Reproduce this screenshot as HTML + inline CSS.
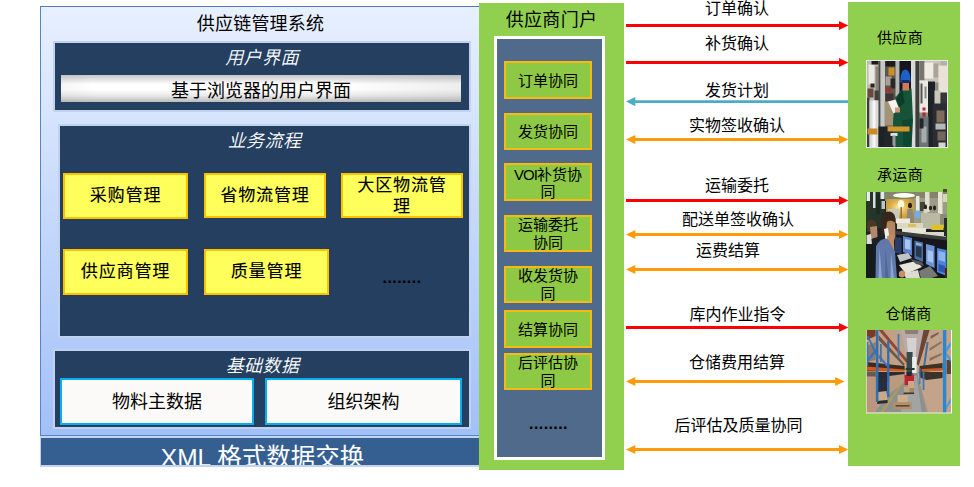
<!DOCTYPE html>
<html lang="zh-CN">
<head>
<meta charset="utf-8">
<title>供应链管理系统</title>
<style>
html,body{margin:0;padding:0;background:#fff;}
body{width:974px;height:487px;position:relative;overflow:hidden;
  font-family:"Liberation Sans","Noto Sans CJK SC",sans-serif;color:#000;}
.abs{position:absolute;box-sizing:border-box;}
.c{display:flex;align-items:center;justify-content:center;text-align:center;white-space:nowrap;}
/* left panel */
#outer{left:40px;top:6px;width:441px;height:430px;
  background:linear-gradient(#e8f0ff 0%,#a2c0f8 100%);
  border:1px solid #5585c5;border-top:1px solid #4a7fc4;}
.dark{background:#243f60;border:2px solid #c1d2ef;background-clip:padding-box;}
.hd{color:#fff;font-style:italic;font-size:18px;letter-spacing:0.4px;font-weight:350;}
.ybox{background:#ffff5c;border:2px solid #ffc000;font-size:17px;letter-spacing:0.9px;font-weight:400;line-height:20px;text-shadow:0.4px 0.4px 0 rgba(0,0,0,.3);}
.wbox{background:#fbfaf8;border:2.5px solid #00b0f0;font-size:18px;padding-bottom:3px;}
/* middle */
.gbox{background:#8dc944;border:2px solid #f9b90f;font-size:15px;line-height:17.5px;padding-top:0.5px;}
.lbl{font-size:16px;height:20px;line-height:20px;width:222px;left:626px;text-align:center;white-space:nowrap;}
.rl{font-size:15px;letter-spacing:0.35px;width:112px;left:848px;text-align:center;height:20px;line-height:20px;}
</style>
</head>
<body>
<!-- ============ LEFT PANEL ============ -->
<div id="outer" class="abs"></div>
<div class="abs c" style="left:40px;top:9.5px;width:441px;height:24px;font-size:18px;letter-spacing:0.2px;">供应链管理系统</div>

<div class="abs dark" style="left:53px;top:41px;width:418px;height:71px;"></div>
<div class="abs c hd" style="left:54px;top:44.5px;width:416px;height:22px;">用户界面</div>
<div class="abs c" style="left:61px;top:75px;width:400px;height:27px;font-size:18px;
  background:linear-gradient(90deg,rgba(120,120,120,.07) 0%,rgba(120,120,120,0) 8%,rgba(120,120,120,0) 70%,rgba(120,120,120,.13) 100%),linear-gradient(#c6c6c6 0%,#ffffff 34%,#ffffff 54%,#e9e9e9 76%,#bbbbbb 100%);">基于浏览器的用户界面</div>

<div class="abs dark" style="left:58px;top:124px;width:413px;height:214px;"></div>
<div class="abs c hd" style="left:59px;top:127.5px;width:411px;height:22px;">业务流程</div>
<div class="abs c ybox" style="left:63px;top:173px;width:125px;height:46px;">采购管理</div>
<div class="abs c ybox" style="left:204px;top:173px;width:122px;height:45px;">省物流管理</div>
<div class="abs c ybox" style="left:341px;top:173px;width:122px;height:45px;white-space:normal;padding:1px 12px 0;line-height:21px;">大区物流管理</div>
<div class="abs c ybox" style="left:63px;top:249px;width:125px;height:46px;">供应商管理</div>
<div class="abs c ybox" style="left:204px;top:249px;width:125px;height:46px;">质量管理</div>
<div class="abs c" style="left:372px;top:268px;width:60px;height:20px;color:#000;font-size:16px;font-weight:bold;letter-spacing:0.4px;">........</div>

<div class="abs dark" style="left:53px;top:349px;width:418px;height:80px;"></div>
<div class="abs c hd" style="left:54px;top:353.2px;width:417px;height:22px;letter-spacing:0.4px;">基础数据</div>
<div class="abs c wbox" style="left:60px;top:378px;width:194px;height:47px;">物料主数据</div>
<div class="abs c wbox" style="left:265px;top:378px;width:197px;height:47px;">组织架构</div>

<div class="abs" style="left:40px;top:436px;width:441px;height:31px;background:#365f91;border:1px solid #bccfec;border-top:2px solid #c2d5f1;border-bottom:2px solid #c2d3ee;overflow:hidden;">
  <div class="abs c" style="left:0;top:0.7px;width:443px;height:34px;color:#fff;font-size:24.5px;">XML 格式数据交换</div>
</div>

<!-- ============ MIDDLE PORTAL ============ -->
<div class="abs" style="left:479px;top:3px;width:145px;height:467px;background:#91cf4f;"></div>
<div class="abs c" style="left:479px;top:6px;width:145px;height:24px;font-size:18px;letter-spacing:0.3px;">供应商门户</div>
<div class="abs" style="left:494px;top:36px;width:111px;height:424px;background:#4f6a8b;border:3px solid #fff;"></div>
<div class="abs c gbox" style="left:504px;top:61px;width:88px;height:38px;">订单协同</div>
<div class="abs c gbox" style="left:504px;top:112.5px;width:88px;height:37.0px;">发货协同</div>
<div class="abs c gbox" style="left:504px;top:163px;width:88px;height:38px;white-space:normal;padding-top:2.5px;"><div><span style="letter-spacing:-0.9px">VOI</span>补货协<br>同</div></div>
<div class="abs c gbox" style="left:504px;top:215px;width:88px;height:37px;white-space:normal;">运输委托<br>协同</div>
<div class="abs c gbox" style="left:504px;top:266px;width:88px;height:37px;white-space:normal;">收发货协<br>同</div>
<div class="abs c gbox" style="left:504px;top:310px;width:88px;height:38px;">结算协同</div>
<div class="abs c gbox" style="left:504px;top:353px;width:88px;height:36.5px;white-space:normal;">后评估协<br>同</div>
<div class="abs c" style="left:518.5px;top:414px;width:60px;height:20px;color:#000;font-size:16px;font-weight:bold;letter-spacing:0.4px;">........</div>

<!-- ============ ARROWS ============ -->
<svg class="abs" style="left:0;top:0;" width="974" height="487" viewBox="0 0 974 487">
  <g id="arrows" stroke-width="2.8" fill="none">
<g stroke="#ff0000" fill="#ff0000">
<path d="M626 25.5H840.0"/><path d="M848.3 25.5l-9.3 -4.6v9.2z" stroke="none"/>
<path d="M626 62.5H840.0"/><path d="M848.3 62.5l-9.3 -4.6v9.2z" stroke="none"/>
<path d="M626 200.5H840.0"/><path d="M848.3 200.5l-9.3 -4.6v9.2z" stroke="none"/>
<path d="M626 327.5H840.0"/><path d="M848.3 327.5l-9.3 -4.6v9.2z" stroke="none"/>
</g><g stroke="#4bacc6" fill="#4bacc6">
<path d="M634.3 101.6H848.3"/><path d="M626 101.6l9.3 -4.6v9.2z" stroke="none"/>
</g><g stroke="#ff9a0a" fill="#ff9a0a">
<path d="M634.3 139.5H840.0"/><path d="M626 139.5l9.3 -4.6v9.2z" stroke="none"/><path d="M848.3 139.5l-9.3 -4.6v9.2z" stroke="none"/>
<path d="M634.3 234.5H840.0"/><path d="M626 234.5l9.3 -4.6v9.2z" stroke="none"/><path d="M848.3 234.5l-9.3 -4.6v9.2z" stroke="none"/>
<path d="M634.3 269.5H840.0"/><path d="M626 269.5l9.3 -4.6v9.2z" stroke="none"/><path d="M848.3 269.5l-9.3 -4.6v9.2z" stroke="none"/>
<path d="M634.3 381.5H836.2"/><path d="M626 381.5l9.3 -4.6v9.2z" stroke="none"/><path d="M844.5 381.5l-9.3 -4.6v9.2z" stroke="none"/>
<path d="M634.3 449.5H840.0"/><path d="M626 449.5l9.3 -4.6v9.2z" stroke="none"/><path d="M848.3 449.5l-9.3 -4.6v9.2z" stroke="none"/>
</g></g>
</svg>
<div class="abs lbl" style="top:-1.5px;">订单确认</div>
<div class="abs lbl" style="top:34px;">补货确认</div>
<div class="abs lbl" style="top:80.5px;">发货计划</div>
<div class="abs lbl" style="top:115.5px;">实物签收确认</div>
<div class="abs lbl" style="top:176px;">运输委托</div>
<div class="abs lbl" style="top:210px;left:627px;">配送单签收确认</div>
<div class="abs lbl" style="top:240.5px;left:617px;">运费结算</div>
<div class="abs lbl" style="top:304.8px;left:626.5px;">库内作业指令</div>
<div class="abs lbl" style="top:353px;">仓储费用结算</div>
<div class="abs lbl" style="top:416px;left:627.5px;">后评估及质量协同</div>

<!-- ============ RIGHT COLUMN ============ -->
<div class="abs" style="left:848px;top:2px;width:112px;height:464px;background:#91cf4f;"></div>
<div class="abs rl" style="top:28px;left:844px;">供应商</div>
<div class="abs rl" style="top:165px;left:844px;">承运商</div>
<div class="abs rl" style="top:303.5px;left:852.5px;">仓储商</div>
<svg id="ph1" class="abs" style="left:866px;top:60px;" width="82" height="88" viewBox="-0.5 -0.5 82 88">
  <defs>
    <filter id="b1" x="-5%" y="-5%" width="110%" height="110%"><feGaussianBlur stdDeviation="0.55"/></filter>
    <clipPath id="c1"><rect x="0.5" y="0.5" width="80" height="86"/></clipPath>
  </defs>
  <rect x="-0.5" y="-0.5" width="82" height="88" fill="#fff"/>
  <rect x="0.4" y="0.4" width="80.2" height="86.2" fill="#1c1c1c"/>
  <g clip-path="url(#c1)"><g filter="url(#b1)">
    <rect x="-2" y="-2" width="85" height="91" fill="#8e8e88"/>
    <!-- left machinery -->
    <rect x="0" y="0" width="13" height="87" fill="#bfbbb3"/>
    <rect x="2" y="4" width="6" height="20" fill="#ece8e2"/>
    <rect x="5" y="0" width="7" height="4" fill="#1a1a1a"/>
    <rect x="9" y="6" width="3" height="30" fill="#8c8478"/>
    <rect x="4" y="23" width="4" height="4" fill="#2a2622"/>
    <rect x="1" y="28" width="6" height="9" fill="#6a4a3a"/>
    <rect x="8" y="30" width="5" height="10" fill="#40403c"/>
    <rect x="0" y="37" width="3" height="50" fill="#3a3a38"/>
    <rect x="3" y="40" width="9" height="47" fill="#d9d9d7"/>
    <rect x="6" y="40" width="3" height="47" fill="#f6f6f6"/>
    <rect x="12" y="0" width="2" height="87" fill="#4c4c4a"/>
    <rect x="14" y="0" width="4.5" height="87" fill="#c6c8c8"/>
    <!-- column between pillars -->
    <rect x="18.5" y="0" width="11" height="66" fill="#5e5648"/>
    <rect x="19" y="0" width="10" height="6" fill="#1e1e1c"/>
    <rect x="22" y="7" width="6" height="8" fill="#c8902c"/>
    <rect x="19" y="16" width="6" height="9" fill="#a8a094"/>
    <rect x="24" y="18" width="5" height="10" fill="#2a2826"/>
    <rect x="19" y="27" width="6" height="5" fill="#8a3a34"/>
    <rect x="19" y="33" width="8" height="8" fill="#3a3630"/>
    <rect x="18" y="41" width="9" height="24" fill="#a39478"/>
    <rect x="29" y="0" width="4" height="36" fill="#b4b6b6"/>
    <!-- dark centre -->
    <rect x="33" y="0" width="12" height="34" fill="#14181a"/>
    <!-- pillars -->
    <rect x="44.5" y="0" width="4.5" height="87" fill="#d8dada"/>
    <rect x="49" y="0" width="4" height="87" fill="#3c3e3e"/>
    <!-- right side top -->
    <rect x="53" y="0" width="28" height="22" fill="#cac4b8"/>
    <rect x="53" y="0" width="5" height="20" fill="#77756e"/>
    <rect x="58" y="2" width="9" height="16" fill="#efebe3"/>
    <rect x="67" y="3" width="5" height="14" fill="#a8a498"/>
    <rect x="72" y="5" width="9" height="28" fill="#e9e3d7"/>
    <rect x="74" y="0" width="7" height="5" fill="#b4b0a6"/>
    <!-- panel -->
    <rect x="53" y="20" width="8.5" height="32" fill="#e9e9e5"/>
    <rect x="54" y="23" width="2" height="20" fill="#55554f"/>
    <rect x="58" y="26" width="2" height="12" fill="#8a8a84"/>
    <rect x="56" y="47" width="3" height="3" fill="#c8202a"/>
    <rect x="56" y="52" width="3" height="5" fill="#b8242c"/>
    <!-- black hose + right dark -->
    <rect x="61.5" y="21" width="7" height="66" fill="#1e2226"/>
    <rect x="68" y="30" width="6" height="14" fill="#c9c5bb"/>
    <rect x="74" y="32" width="7" height="12" fill="#34363a"/>
    <rect x="66" y="43" width="15" height="44" fill="#2a2e32"/>
    <rect x="70" y="50" width="8" height="12" fill="#7e6d5a"/>
    <rect x="69" y="63" width="10" height="6" fill="#b4b8ba"/>
    <rect x="71" y="71" width="8" height="9" fill="#75675a"/>
    <rect x="72" y="82" width="7" height="5" fill="#d4d4d0"/>
    <rect x="53" y="56" width="9" height="31" fill="#6c7474"/>
    <rect x="55" y="66" width="5" height="16" fill="#a8acac"/>
    <rect x="53" y="58" width="4" height="10" fill="#22262a"/>
    <!-- worker -->
    <path d="M29 37 L36 28 L45 28 L46.5 60 L45 87 L29 87 L26.5 62 Z" fill="#135239"/>
    <path d="M30 38 L36 29 L38 42 L33 47Z" fill="#0c3c2a"/>
    <path d="M36 60 L45 58 L45 87 L37 87Z" fill="#0e4632"/>
    <rect x="36" y="21" width="6.5" height="9" fill="#cf7a58"/>
    <path d="M34 22 Q33.5 9 39.5 9 Q44 10 44 21 L36 22.5Z" fill="#1a60c8"/>
    <rect x="35" y="19.5" width="8" height="3" fill="#102e66"/>
    <path d="M21.5 41 L29 39 L33 49 L27 53Z" fill="#f2f2f0"/>
    <rect x="28.5" y="47" width="5" height="5" fill="#d09878"/>
    <!-- orange bars -->
    <rect x="1" y="68" width="10" height="6" fill="#c98a2a"/>
    <rect x="21" y="66" width="22" height="5" fill="#d4962a"/>
    <!-- bottom dark -->
    <rect x="12" y="66" width="9" height="21" fill="#1c2026"/>
    <rect x="17" y="71" width="10" height="16" fill="#22262a"/>
    <rect x="24" y="72.5" width="7" height="3" fill="#e0e0e0"/>
    <rect x="26" y="75" width="3" height="10" fill="#9a9a98"/>
  </g></g>
</svg>
<svg id="ph2" class="abs" style="left:866px;top:188px;" width="82" height="91" viewBox="0 -4 82 91">
  <defs>
    <filter id="b2" x="-5%" y="-5%" width="110%" height="110%"><feGaussianBlur stdDeviation="0.6"/></filter>
    <clipPath id="c2"><rect x="0" y="0" width="81" height="86"/></clipPath>
    <radialGradient id="glow" cx="45%" cy="35%" r="65%"><stop offset="0" stop-color="#f8eeb4"/><stop offset="0.45" stop-color="#e0b048"/><stop offset="1" stop-color="#a88a40"/></radialGradient>
  </defs>
  <rect x="77" y="-3" width="4" height="4" fill="#4c4a2a"/>
  <g clip-path="url(#c2)"><g filter="url(#b2)">
    <rect x="-2" y="-2" width="86" height="91" fill="#1e2426"/>
    <!-- ceiling + back wall -->
    <rect x="16" y="0" width="66" height="9" fill="#82846c"/>
    <rect x="20" y="7" width="30" height="24" fill="url(#glow)"/>
    <rect x="48" y="6" width="34" height="30" fill="#9c9c84"/>
    <ellipse cx="38" cy="3.4" rx="11" ry="2.4" fill="#fffef2"/>
    <ellipse cx="35" cy="12" rx="3.2" ry="4" fill="#fff8d8"/>
    <rect x="34.5" y="15" width="1.4" height="12" fill="#8a6a28"/>
    <rect x="50" y="4" width="3.4" height="15" fill="#eeeadb"/>
    <rect x="59" y="0" width="4.5" height="20" fill="#e3dfcf"/>
    <rect x="72" y="0" width="4.5" height="22" fill="#e9e5d6"/>
    <rect x="77" y="2" width="4" height="8" fill="#d8d4c0"/>
    <rect x="54" y="10" width="5" height="9" fill="#3c4a34"/>
    <ellipse cx="59.5" cy="15" rx="1.6" ry="2.4" fill="#2a2420"/>
    <ellipse cx="64.5" cy="16" rx="1.6" ry="2.2" fill="#2a2420"/>
    <ellipse cx="68.5" cy="16" rx="1.6" ry="2.4" fill="#2a2420"/>
    <rect x="57.5" y="17" width="4" height="5" fill="#d8d4c8"/>
    <rect x="55" y="21" width="19" height="16" fill="#b9b9a4"/>
    <rect x="74" y="22" width="8" height="10" fill="#8c8a78"/>
    <rect x="22" y="17" width="11" height="12" fill="#c9c8be"/>
    <!-- tree -->
    <rect x="0" y="0" width="19" height="36" fill="#26342a"/>
    <rect x="0.5" y="0" width="3.5" height="9" fill="#e6ecf0"/>
    <rect x="7" y="0" width="2.5" height="16" fill="#d5dde0"/>
    <rect x="14.5" y="0" width="4" height="7" fill="#e3e9ea"/>
    <rect x="15.5" y="9" width="3.5" height="8" fill="#b9c6c4"/>
    <rect x="10" y="2" width="4" height="20" fill="#1c2a20"/>
    <!-- standing person -->
    <ellipse cx="44" cy="13.5" rx="2" ry="2.8" fill="#2a1e1c"/>
    <path d="M41.5 17 L46.5 17 L48 30 L40.5 30Z" fill="#8d877b"/>
    <rect x="49" y="18.5" width="5" height="7.5" fill="#74abe9"/>
    <!-- desk clutter -->
    <rect x="30" y="26.5" width="14" height="5" fill="#ecebe0"/>
    <rect x="31" y="31" width="26" height="6" fill="#dcd7c2"/>
    <rect x="36" y="36" width="24" height="6" fill="#e9e5d4"/>
    <rect x="42" y="32" width="8" height="3" fill="#d8c060"/>
    <rect x="58" y="40" width="22" height="5" fill="#d9d6c8"/>
    <rect x="65.5" y="33" width="12" height="5" fill="#e0c21e"/>
    <rect x="78" y="26" width="4" height="18" fill="#262a30"/>
    <!-- monitors wall -->
    <path d="M29 41 L82 48 L82 87 L29 87Z" fill="#15191e"/>
    <path d="M30 39 L82 45 L82 48.5 L30 42.5Z" fill="#3a3c3c"/>
    <path d="M29 45 L35.5 46 L35.5 62 L29 61Z" fill="#2a3c68"/>
    <path d="M37 44 L46 46 L46 63.5 L37 60Z" fill="#5a82cc"/>
    <path d="M39 47 L44.5 48 L44.5 58 L39 56.5Z" fill="#a9c6ee"/>
    <path d="M48.5 48.5 L57 50.5 L57 70 L48.5 66.5Z" fill="#4a6ea6"/>
    <path d="M50 54 L55.5 55 L55.5 66 L50 64Z" fill="#26384c"/>
    <path d="M50 50.5 L55.5 51.7 L55.5 54 L50 53Z" fill="#8eb2e6"/>
    <path d="M60 52 L68.5 54 L68.5 76 L60 72Z" fill="#6a93d8"/>
    <path d="M61.5 58 L67 59.5 L67 71 L61.5 69Z" fill="#a6c4ef"/>
    <path d="M71 56 L80.5 58 L80.5 84 L71 80Z" fill="#4d82dc"/>
    <path d="M72.5 59 L79 60.5 L79 70 L72.5 68Z" fill="#8db4ec"/>
    <path d="M72.5 72 L79 74 L79 81 L72.5 79Z" fill="#2f56b0"/>
    <rect x="79" y="76" width="3" height="11" fill="#4e1a1a"/>
    <!-- keyboard / papers -->
    <path d="M31 63 L42 61 L46 66 L34 70Z" fill="#bfc4c4"/>
    <path d="M33 73 L50 69 L56 75 L40 82Z" fill="#e6e5dc"/>
    <path d="M38 81 L52 78 L54 86 L40 87Z" fill="#dedcd2"/>
    <path d="M53 79 L64 74 L72 84 L62 87 L55 87Z" fill="#767a76"/>
    <path d="M44 67 L56 70 L58 74 L50 72Z" fill="#55595a"/>
    <ellipse cx="36" cy="82" rx="3.2" ry="3.6" fill="#c8906a"/>
    <!-- second man left -->
    <path d="M1 30 Q5 25 10 30 L11 38 L1 40Z" fill="#4a3828"/>
    <path d="M4 35 L11 34 L11.5 45 L5 47Z" fill="#b4886a"/>
    <path d="M0.5 43 L5 42 L6 53 L0.5 54Z" fill="#dcdcd8"/>
    <rect x="0" y="52" width="11" height="35" fill="#161a1c"/>
    <!-- front man -->
    <path d="M19 31 L29 30 L29.5 44 L27 52 L19 50Z" fill="#b6845e"/>
    <path d="M15 33 Q14 19 24 19.5 Q30.5 21 29.5 31 Q25 27 21 30 L19.5 42 L16 42Z" fill="#38281e"/>
    <path d="M18 37 L22 36 L23.5 46 L19.5 47Z" fill="#f0f0ec"/>
    <path d="M21 44 L27.5 42 L28.5 62 L23 62Z" fill="#c08c66"/>
    <path d="M10 54 Q15 45 22 47 L29 60 L31 87 L9.5 87Z" fill="#6079aa"/>
    <path d="M13.5 56 L16 87 L12.5 87Z" fill="#8fa6cf"/>
    <path d="M19.5 55 L22.5 87 L19 87Z" fill="#4f679a"/>
    <path d="M25 60 L28 87 L24.5 87Z" fill="#8da4cd"/>
  </g></g>
</svg>
<svg id="ph3" class="abs" style="left:866px;top:330px;" width="86" height="84" viewBox="-0.6 0 86 84">
  <defs>
    <filter id="b3" x="-5%" y="-5%" width="110%" height="110%"><feGaussianBlur stdDeviation="0.55"/></filter>
    <clipPath id="c3"><rect x="0" y="0" width="84.4" height="82.4"/></clipPath>
  </defs>
  <rect x="-0.6" y="0" width="86" height="83.4" fill="#f4f4f0"/>
  <g clip-path="url(#c3)"><g filter="url(#b3)">
    <rect x="-2" y="-2" width="88" height="86" fill="#b89a80"/>
    <!-- ceiling -->
    <path d="M34 0 L58 0 L51 34 L45 44 L40 32Z" fill="#b9aaa6"/>
    <path d="M40 8 L50 8 L49 28 L42 28Z" fill="#d4d2d0"/>
    <path d="M38 0 L52 0 L51 4 L39 4Z" fill="#8e7c78"/>
    <!-- floor -->
    <path d="M44 42 L51 42 L60 82 L8 82 L36 48Z" fill="#8c9190"/>
    <path d="M46 46 L50 46 L55 82 L34 82Z" fill="#a0a5a3"/>
    <path d="M14 82 L17 82 L37 52 L36 51Z" fill="#b49a52"/>
    <!-- left shelves -->
    <path d="M0 0 L34 0 L40 30 L40 48 L0 82Z" fill="#c0a188"/>
    <path d="M0 0 L9 0 L9 6 L0 10Z" fill="#7a3a26"/>
    <path d="M12 0 L16 0 L41 30 L40 33Z" fill="#93472e"/>
    <path d="M12 5 L38 34 L37 36 L12 10Z" fill="#6e5546"/>
    <path d="M0 16 L9 12 L9 30 L0 32Z" fill="#8d7a72"/>
    <path d="M0 32 L38 36 L38 40 L0 41Z" fill="#3c2c24"/>
    <path d="M0 36.5 L38 39.5 L38 41.5 L0 40.5Z" fill="#d2591f"/>
    <path d="M9 42 L38 42 L38 47 L22 52 L9 52Z" fill="#2b2c30"/>
    <rect x="0" y="47" width="9.5" height="36" fill="#b9967b"/>
    <rect x="0" y="41.5" width="9" height="5" fill="#6a5a4e"/>
    <rect x="11" y="48" width="9.5" height="16" fill="#262f3c"/>
    <path d="M11.5 62 L20 61 L20.5 70 L11.5 71Z" fill="#c8aa8a"/>
    <path d="M10.5 71 L21 70 L21 73 L10.5 74Z" fill="#2a2c2e"/>
    <path d="M22.5 46 L38 44 L38 52 L22.5 64Z" fill="#b99a7c"/>
    <rect x="9.3" y="0" width="2.5" height="72" fill="#2f6fb6"/>
    <path d="M0 6 L2 6 L9.5 22 L9.5 26Z" fill="#3a73b3"/>
    <path d="M0 30 L9.5 18 L9.5 22 L1.5 32Z" fill="#3a73b3"/>
    <rect x="0" y="12" width="1.6" height="24" fill="#3a73b3"/>
    <rect x="20.5" y="11" width="2.3" height="56" fill="#2f6db3"/>
    <path d="M12 24 L20.5 34 L20.5 37 L12 28Z" fill="#4179b6"/>
    <rect x="31" y="4" width="1.8" height="24" fill="#3a78bd"/>
    <rect x="13.5" y="14" width="1.6" height="18" fill="#3a6ea8"/>
    <!-- right shelves -->
    <path d="M58 0 L85 0 L85 82 L62 82 L52 50 L50 36Z" fill="#c3a48b"/>
    <path d="M57 0 L63 0 L52 36 L50 34Z" fill="#6d4534"/>
    <path d="M60 12 L62 12 L58 40 L56 40Z" fill="#3f6f9e"/>
    <path d="M64 6 L72 2 L72 4 L64 9Z" fill="#7a6252"/>
    <path d="M63 18 L75 11 L75 13 L63 21Z" fill="#8b7361"/>
    <path d="M63 28 L75 23 L75 25 L63 31Z" fill="#86705e"/>
    <path d="M53 36 L76 33 L76 40 L53 42Z" fill="#3d3028"/>
    <path d="M55 39 L76 38 L76 40.5 L55 41.5Z" fill="#cf5a22"/>
    <path d="M52 42 L76 42 L76 48 L60 50 L54 48Z" fill="#3a3029"/>
    <rect x="80" y="30" width="5" height="14" fill="#5a4436"/>
    <rect x="76.3" y="0" width="3.4" height="83" fill="#2a86cf"/>
    <path d="M79.5 18 L84 12 L84 16 L79.5 23Z" fill="#4a98d6"/>
    <path d="M79.5 22 L84 28 L84 32 L79.5 26Z" fill="#4a98d6"/>
    <path d="M79.5 76 L84 68 L84 72 L79.5 80Z" fill="#4a98d6"/>
    <rect x="56" y="42" width="1.8" height="18" fill="#3a78bd"/>
    <rect x="52.6" y="38" width="1.3" height="16" fill="#3a78bd"/>
    <!-- forklift -->
    <rect x="40" y="22" width="6" height="24" fill="#3b4848"/>
    <rect x="45.5" y="27" width="4.5" height="16" fill="#e6eeee"/>
    <rect x="39" y="38" width="9" height="2" fill="#2c3434"/>
    <rect x="38" y="45" width="9.5" height="10" fill="#bf2432"/>
    <rect x="40" y="42" width="5" height="4" fill="#2a2c2e"/>
    <!-- floor boxes -->
    <rect x="41.5" y="51" width="6" height="7" fill="#ccaa88"/>
    <rect x="37.3" y="56.5" width="6" height="7" fill="#c3a07e"/>
    <rect x="43" y="58" width="4.5" height="5.5" fill="#a5845f"/>
    <rect x="37" y="62.5" width="10.5" height="1.6" fill="#3a3430"/>
    <rect x="31" y="65" width="10" height="10" fill="#cdae8c"/>
    <path d="M27 72 L45 72 L45.5 79 L26.5 79Z" fill="#b3906a"/>
    <rect x="29" y="75" width="14" height="1.6" fill="#5a4632"/>
  </g></g>
</svg>
</body>
</html>
